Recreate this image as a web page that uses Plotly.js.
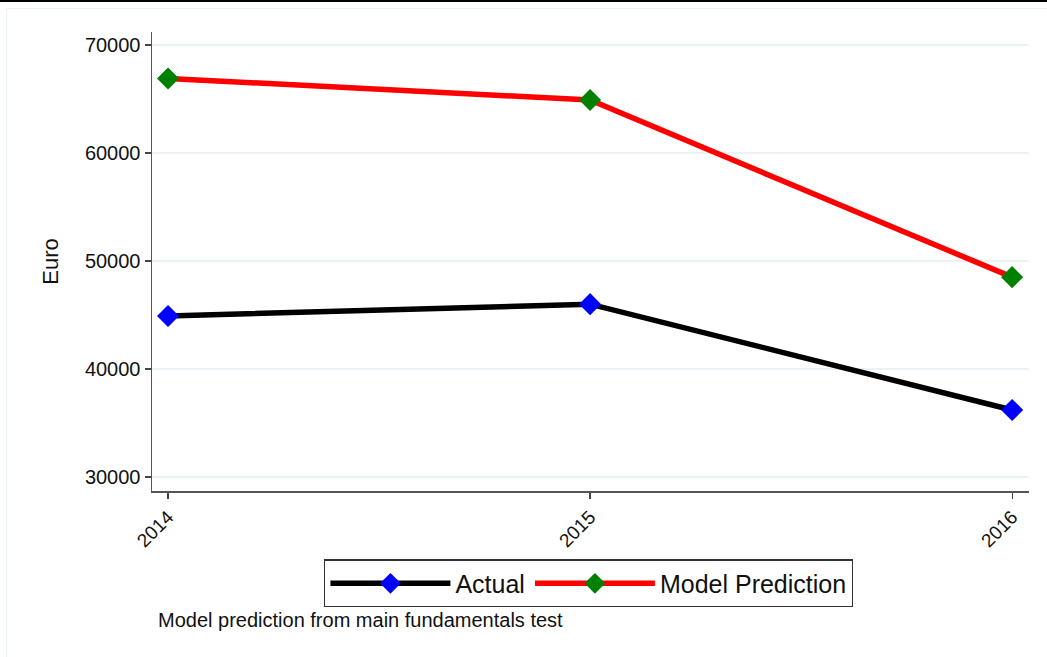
<!DOCTYPE html>
<html>
<head>
<meta charset="utf-8">
<script src="https://cdn.plot.ly/plotly-3.0.1.min.js"></script>
<style>
html,body{margin:0;padding:0;background:#fff;}
#topline{position:absolute;left:0;top:0;width:1047px;height:2px;background:#000;}
#frame{position:absolute;left:6px;top:8px;width:1060px;height:660px;border:1px solid #eaf2f5;box-sizing:border-box;}
#chart{position:absolute;left:0;top:0;width:1047px;height:657px;}
</style>
</head>
<body>
<div id="topline"></div>
<div id="frame"></div>
<div id="chart"></div>
<script>
const years = [2014, 2015, 2016];
const actual = [44900, 46000, 36200];
const modelPrediction = [66900, 64900, 48500];
const yTicks = [30000, 40000, 50000, 60000, 70000];
const yTickLabels = ['30000', '40000', '50000', '60000', '70000'];
const seriesNames = ['Actual', 'Model Prediction'];
const noteText = 'Model prediction from main fundamentals test';

const font = 'Arial, "Liberation Sans", sans-serif';

const traces = [
  {x: years, y: actual, name: seriesNames[0], type: 'scatter', mode: 'lines+markers',
   line: {color: '#000000', width: 5.5}, marker: {symbol: 'diamond', size: 17, color: '#0000ff'}},
  {x: years, y: modelPrediction, name: seriesNames[1], type: 'scatter', mode: 'lines+markers',
   line: {color: '#ff0000', width: 5.5}, marker: {symbol: 'diamond', size: 17, color: '#008000'}}
];

const layout = {
  width: 1047, height: 657,
  paper_bgcolor: 'rgba(0,0,0,0)', plot_bgcolor: '#ffffff',
  margin: {l: 152, r: 18, t: 32, b: 166},
  font: {family: font, color: '#111'},
  showlegend: true,
  legend: {orientation: 'h', x: 0.498, xanchor: 'center', y: -0.149, yanchor: 'top',
           bordercolor: '#333', borderwidth: 1.2, bgcolor: '#fff',
           font: {size: 25, family: font, color: '#111'}, itemwidth: 120,
           tracegroupgap: 0},
  xaxis: {range: [2013.962, 2016.04], tickvals: years, ticktext: years.map(String),
          tickangle: -45, ticks: 'outside', ticklen: 6, tickcolor: '#444', tickwidth: 1.2,
          showline: true, linecolor: '#555', linewidth: 1.5, showgrid: false, zeroline: false,
          tickfont: {size: 19, family: font, color: '#111'}},
  yaxis: {range: [28700, 71200], tickvals: yTicks, ticktext: yTickLabels, ticks: 'outside', ticklen: 6,
          tickcolor: '#444', tickwidth: 1.2,
          showline: true, linecolor: '#555', linewidth: 1.5, showgrid: true, gridcolor: '#eaf2f3', gridwidth: 1.5,
          zeroline: false, tickfont: {size: 20, family: font, color: '#111'},
          title: {text: 'Euro', font: {size: 22, family: font, color: '#111'}, standoff: 20}},
  annotations: [{text: noteText, xref: 'paper', yref: 'paper', x: 0.004, y: -0.281,
                 xanchor: 'left', yanchor: 'middle', showarrow: false,
                 font: {size: 20, family: font, color: '#111'}}]
};

Plotly.newPlot('chart', traces, layout, {displayModeBar: false, staticPlot: true});
</script>
</body>
</html>
